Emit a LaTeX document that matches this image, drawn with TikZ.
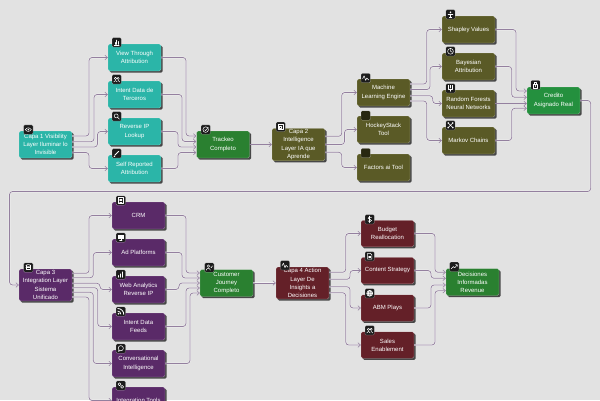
\documentclass[tikz,border=0pt]{standalone}
\usepackage{fontspec}
\setmainfont{Liberation Sans}
\usetikzlibrary{arrows.meta,shadows,calc}
\definecolor{bgc}{HTML}{E2E2E2}
\definecolor{tealc}{HTML}{2BB5A8}
\definecolor{greenA}{HTML}{2A8030}
\definecolor{greenB}{HTML}{24903E}
\definecolor{olivec}{HTML}{5A5A26}
\definecolor{purplec}{HTML}{5A2A68}
\definecolor{maroonc}{HTML}{642028}
\definecolor{linec}{HTML}{94809F}
\definecolor{iconc}{HTML}{1C1C1C}
\tikzset{
  x=1pt,y=-1pt,
  box/.style={rectangle,rounded corners=1.6pt,inner sep=0pt,minimum width=53pt,minimum height=27pt,align=center,text=white,
    font=\fontsize{6}{8.15}\selectfont,draw=white,draw opacity=.45,line width=.25pt,
    drop shadow={shadow xshift=1.7pt,shadow yshift=-1.7pt,opacity=1,fill=black!72}},
  tealbox/.style={box,fill=tealc},
  oliveb/.style={box,fill=olivec},
  purpleb/.style={box,fill=purplec},
  maroonb/.style={box,fill=maroonc},
  greenb/.style={box,fill=greenA},
  greenc/.style={box,fill=greenB},
  conn/.style={draw=linec,line width=.75pt,rounded corners=3pt,-{Straight Barb[length=2.6pt,width=4.6pt,line width=.55pt]},
    preaction={draw=white,draw opacity=.6,line width=1.6pt,-}},
  iconbox/.style={rectangle,rounded corners=1.2pt,fill=iconc,draw=white,draw opacity=.5,line width=.25pt,minimum size=9.4pt,inner sep=0pt},
  blankicon/.style={iconbox,fill=olivec!45!black},
  gl/.style={draw=white,line width=.5pt,line cap=round,line join=round},
}
\newcommand{\ico}[3]{\node[iconbox] (#1) at (#2) {};\begin{scope}[shift={(#2)},gl]#3\end{scope}}
\newcommand{\geye}{\draw (-3,0) .. controls (-1,-2.4) and (1,-2.4) .. (3,0) .. controls (1,2.4) and (-1,2.4) .. (-3,0);\fill[white] (0,0) circle (.9);}
\newcommand{\gbars}{\draw (-2.5,2.5)--(2.5,2.5) (-1.6,2)--(-1.6,0) (0,2)--(0,-2.4) (1.6,2)--(1.6,-1);}
\newcommand{\gusers}{\draw (-1.2,-1) circle (1.2) (1.5,-1) circle (1.1) (-3,2.6) .. controls (-3,.6) and (.6,.6) .. (.6,2.6) (1.4,.9) .. controls (2.4,.9) and (3,1.5) .. (3,2.6);}
\newcommand{\gsearch}{\draw (-.5,-.5) circle (2) (1,1)--(2.8,2.8);}
\newcommand{\gpen}{\draw[line width=.9pt] (-2,2)--(2,-2);\draw (-2.8,2.8)--(-1.8,2.8);}
\newcommand{\gtarget}{\draw (0,0) circle (2.8);\draw (-1,0)--(-.1,1)--(2.6,-2.2);}
\newcommand{\gcpu}{\draw (-2.6,-2.6) rectangle (2.6,2.6);\draw (-1,-1) rectangle (1,1);}
\newcommand{\gactivity}{\draw (-3,.6)--(-1.6,-2.2)--(0,2.4)--(1,0)--(3,2);}
\newcommand{\gscale}{\fill[white] (0,-2) circle (.9);\draw (-2.4,-.2)--(2.4,-.2) (0,-.2)--(0,2.6) (-1.2,2.6)--(1.2,2.6);}
\newcommand{\gclock}{\draw (0,0) circle (2.9);\draw (0,-1.8)--(0,0)--(1.7,.8);}
\newcommand{\gbranch}{\draw (-2.2,-3)--(-2.2,.6)--(2.2,.6)--(2.2,-3) (0,.6)--(0,3);\draw (-.6,-3)--(-.6,-.6);}
\newcommand{\gnet}{\draw (-2.2,-2.2)--(2.2,2.2) (2.2,-2.2)--(-2.2,2.2);\fill[white] (-2.3,-2.3) circle (.9) (2.3,-2.3) circle (.9) (-2.3,2.3) circle (.9) (2.3,2.3) circle (.9);}
\newcommand{\gcred}{\draw (-2.2,-.8) rectangle (2.2,2.8);\draw (-1.2,-.8)--(-1.2,-2.8)--(1.2,-2.8)--(1.2,-.8) (0,.4)--(0,1.6);}
\newcommand{\gdb}{\draw (0,-2) ellipse (2.4 and .9);\draw (-2.4,-2)--(-2.4,2)--(2.4,2)--(2.4,-2) (-2.4,0)--(2.4,0);}
\newcommand{\gcrm}{\draw (-2.2,-2.8) rectangle (2.2,2.8);\draw (-1.1,-1.2)--(1.1,-1.2) (-1.1,.2)--(1.1,.2) (-1.1,1.6)--(1.1,1.6);}
\newcommand{\gmon}{\fill[white] (-3,-2.4) rectangle (3,1);\draw (-1.3,2.6)--(1.3,2.6) (0,1)--(0,2.6);}
\newcommand{\gchart}{\draw[line width=.8pt] (-2,2.6)--(-2,1) (0,2.6)--(0,-.6) (2,2.6)--(2,-2.6);}
\newcommand{\grss}{\fill[white] (-2.2,2.2) circle (.9);\draw[line width=.8pt] (-3,-.4) arc (-90:0:3);\draw[line width=.8pt] (-3,-3) arc (-90:0:6);}
\newcommand{\gchat}{\draw (0,-.3) circle (2.6);\draw (-1.8,1.7)--(-2.6,2.9)--(-.8,2.2);}
\newcommand{\glink}{\draw (-1.3,-1.3) circle (1.5) (1.3,1.3) circle (1.5);}
\newcommand{\guserchk}{\draw (-1,-1.4) circle (1.3) (-3,2.7) .. controls (-3,.2) and (1,.2) .. (1,2.7) (1.4,-.6)--(2,.1)--(3.2,-1.6);}
\newcommand{\gdollar}{\draw (1.8,-1.7) .. controls (.6,-2.8) and (-1.9,-2.4) .. (-1.6,-1) .. controls (-1.3,.2) and (1.9,-.2) .. (1.8,1.2) .. controls (1.7,2.6) and (-.8,2.8) .. (-1.9,1.6);\draw (0,-3.2)--(0,3.2);}
\newcommand{\gfile}{\draw (-2.2,-2.9)--(.8,-2.9)--(2.2,-1.5)--(2.2,2.9)--(-2.2,2.9)--cycle;\draw (-1,0)--(1,0) (-1,1.4)--(1,1.4);}
\newcommand{\gglobe}{\fill[white,opacity=.55] (0,0) circle (3);\draw (0,0) circle (3) (0,0) ellipse (1.3 and 3) (-3,0)--(3,0);}
\newcommand{\gtrend}{\draw (-3,2)--(-1,-.2)--(.4,1)--(3,-2) (1.2,-2.2)--(3,-2)--(3,-.4);}
\begin{document}
\begin{tikzpicture}
\clip (0,0) rectangle (600,400);
\useasboundingbox (0,0) rectangle (600,400);
\fill[bgc] (0,0) rectangle (600,400);
% row 1
\node[tealbox] (c1) at (45.5,144.5) {Capa 1 Visibility\\Layer Iluminar lo\\Invisible};
\node[tealbox] (a1) at (134.5,57.5) {View Through\\Attribution};
\node[tealbox] (a2) at (134.5,94.5) {Intent Data de\\Terceros};
\node[tealbox] (a3) at (134.5,131.5) {Reverse IP\\Lookup};
\node[tealbox] (a4) at (134.5,168.5) {Self Reported\\Attribution};
\node[greenb] (t1) at (223,144.5) {Trackeo\\Completo};
\node[oliveb,minimum height=32.5pt] (c2) at (298.5,144.5) {Capa 2\\Intelligence\\Layer IA que\\Aprende};
\node[oliveb] (m) at (383.5,92.5) {Machine\\Learning Engine};
\node[oliveb] (h) at (383.5,129.5) {HockeyStack\\Tool};
\node[oliveb] (f) at (383.5,167.5) {Factors ai Tool};
\node[oliveb] (s) at (468.5,29.5) {Shapley Values};
\node[oliveb] (b) at (468.5,66.5) {Bayesian\\Attribution};
\node[oliveb] (r) at (468.5,103.5) {Random Forests\\Neural Networks};
\node[oliveb] (k) at (468.5,140.5) {Markov Chains};
\node[greenc] (cr) at (553.5,100.5) {Credito\\Asignado Real};
% row 2
\node[purpleb,minimum height=32pt] (c3) at (45.5,285) {Capa 3\\Integration Layer\\Sistema\\Unificado};
\node[purpleb] (p1) at (138.5,215.5) {CRM};
\node[purpleb] (p2) at (138.5,252.5) {Ad Platforms};
\node[purpleb] (p3) at (138.5,289.5) {Web Analytics\\Reverse IP};
\node[purpleb] (p4) at (138.5,326.5) {Intent Data\\Feeds};
\node[purpleb] (p5) at (138.5,363.5) {Conversational\\Intelligence};
\node[purpleb] (p6) at (138.5,400.5) {Integration Tools};
\node[greenb] (cu) at (226.5,283) {Customer\\Journey\\Completo};
\node[maroonb,minimum height=32pt] (c4) at (302.5,283) {Capa 4 Action\\Layer De\\Insights a\\Decisiones};
\node[maroonb,minimum height=26.5pt] (d1) at (387.5,233.5) {Budget\\Reallocation};
\node[maroonb,minimum height=26.5pt] (d2) at (387.5,270.5) {Content Strategy};
\node[maroonb,minimum height=26.5pt] (d3) at (387.5,308) {ABM Plays};
\node[maroonb,minimum height=26.5pt] (d4) at (387.5,345) {Sales\\Enablement};
\node[greenb] (de) at (472.5,282) {Decisiones\\Informadas\\Revenue};
% icons
\ico{i1}{28.3,129.6}{\geye}
\ico{i2}{116.7,42.4}{\gbars}
\ico{i3}{116.7,79.4}{\gusers}
\ico{i4}{116.7,116.4}{\gsearch}
\ico{i5}{116.7,153.4}{\gpen}
\ico{i6}{205.7,129.6}{\gtarget}
\ico{i7}{280.7,126.8}{\gcpu}
\ico{i8}{365.7,78}{\gactivity}
\node[blankicon] (i9) at (365.7,115.5) {};
\node[blankicon] (i10) at (365.7,153) {};
\ico{i11}{450.5,14.3}{\gscale}
\ico{i12}{450.5,51.3}{\gclock}
\ico{i13}{450.5,88.3}{\gbranch}
\ico{i14}{450.5,125.3}{\gnet}
\ico{i15}{535.5,85}{\gcred}
\ico{i16}{28.3,267.5}{\gdb}
\ico{i17}{120.8,200.5}{\gcrm}
\ico{i18}{120.8,237.5}{\gmon}
\ico{i19}{120.8,274.5}{\gchart}
\ico{i20}{120.8,311.5}{\grss}
\ico{i21}{120.8,348.5}{\gchat}
\ico{i22}{120.8,385.5}{\glink}
\ico{i23}{209.3,267.5}{\guserchk}
\ico{i24}{285,265.3}{\gactivity}
\ico{i25}{369.7,219.3}{\gdollar}
\ico{i26}{369.7,256.3}{\gfile}
\ico{i27}{369.7,293.3}{\gglobe}
\ico{i28}{369.7,330.3}{\gusers}
\ico{i29}{454.3,266.8}{\gtrend}
% connectors
\draw[conn] (c1.east |- 0,136) -- (89,136) -- (89,57.5) -- (a1.west);
\draw[conn] (c1.east |- 0,141.7) -- (94,141.7) -- (94,94.5) -- (a2.west);
\draw[conn] (c1.east |- 0,147) -- (97.5,147) -- (97.5,131.5) -- (a3.west);
\draw[conn] (c1.east |- 0,152.5) -- (89,152.5) -- (89,168.5) -- (a4.west);
\draw[conn] (a1.east) -- (186,57.5) -- (186,136) -- (t1.west |- 0,136);
\draw[conn] (a2.east) -- (182,94.5) -- (182,141.5) -- (t1.west |- 0,141.5);
\draw[conn] (a3.east) -- (178,131.5) -- (178,147) -- (t1.west |- 0,147);
\draw[conn] (a4.east) -- (178,168.5) -- (178,152.5) -- (t1.west |- 0,152.5);
\draw[conn] (t1.east) -- (c2.west);
\draw[conn] (c2.east |- 0,136.3) -- (341.7,136.3) -- (341.7,92.5) -- (m.west);
\draw[conn] (c2.east |- 0,144.5) -- (344.5,144.5) -- (344.5,129.5) -- (h.west);
\draw[conn] (c2.east |- 0,152.3) -- (341.7,152.3) -- (341.7,167.5) -- (f.west);
\draw[conn] (m.east |- 0,84) -- (426.7,84) -- (426.7,29.5) -- (s.west);
\draw[conn] (m.east |- 0,89.5) -- (430,89.5) -- (430,66.5) -- (b.west);
\draw[conn] (m.east |- 0,95.7) -- (432.7,95.7) -- (432.7,103.5) -- (r.west);
\draw[conn] (m.east |- 0,101) -- (426.7,101) -- (426.7,140.5) -- (k.west);
\draw[conn] (s.east) -- (516,29.5) -- (516,91) -- (cr.west |- 0,91);
\draw[conn] (b.east) -- (511.7,66.5) -- (511.7,97.3) -- (cr.west |- 0,97.3);
\draw[conn] (r.east) -- (cr.west |- r.east);
\draw[conn] (k.east) -- (511.7,140.5) -- (511.7,108.3) -- (cr.west |- 0,108.3);
\draw[conn] (cr.east) -- (590.7,100.5) -- (590.7,191.5) -- (9.5,191.5) -- (9.5,285) -- (c3.west);
\draw[conn] (c3.east |- 0,273.3) -- (89,273.3) -- (89,215.5) -- (p1.west);
\draw[conn] (c3.east |- 0,277.7) -- (93.3,277.7) -- (93.3,252.5) -- (p2.west);
\draw[conn] (c3.east |- 0,283.3) -- (100,283.3) -- (100,289.5) -- (p3.west);
\draw[conn] (c3.east |- 0,287.7) -- (97.7,287.7) -- (97.7,326.5) -- (p4.west);
\draw[conn] (c3.east |- 0,292.3) -- (93.3,292.3) -- (93.3,363.5) -- (p5.west);
\draw[conn] (c3.east |- 0,297) -- (89,297) -- (89,400.5) -- (p6.west);
\draw[conn] (p1.east) -- (186,215.5) -- (186,273) -- (cu.west |- 0,273);
\draw[conn] (p2.east) -- (182,252.5) -- (182,278) -- (cu.west |- 0,278);
\draw[conn] (p3.east) -- (179,289.5) -- (179,283) -- (cu.west |- 0,283);
\draw[conn] (p4.east) -- (186,326.5) -- (186,288) -- (cu.west |- 0,288);
\draw[conn] (p5.east) -- (190,363.5) -- (190,293) -- (cu.west |- 0,293);
\draw[conn] (cu.east) -- (c4.west);
\draw[conn] (c4.east |- 0,272.3) -- (345.7,272.3) -- (345.7,233.5) -- (d1.west);
\draw[conn] (c4.east |- 0,279.3) -- (350,279.3) -- (350,270.5) -- (d2.west);
\draw[conn] (c4.east |- 0,286.7) -- (350,286.7) -- (350,308) -- (d3.west);
\draw[conn] (c4.east |- 0,292.7) -- (345.7,292.7) -- (345.7,345) -- (d4.west);
\draw[conn] (d1.east) -- (435,233.5) -- (435,272.3) -- (de.west |- 0,272.3);
\draw[conn] (d2.east) -- (431,270.5) -- (431,278.3) -- (de.west |- 0,278.3);
\draw[conn] (d3.east) -- (431,308) -- (431,285) -- (de.west |- 0,285);
\draw[conn] (d4.east) -- (435,345) -- (435,290.7) -- (de.west |- 0,290.7);
\end{tikzpicture}
\end{document}
